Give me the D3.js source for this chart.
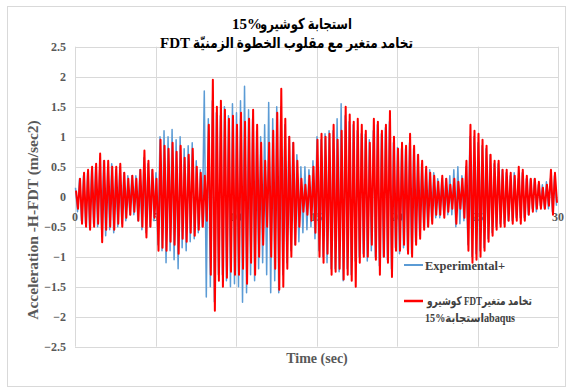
<!DOCTYPE html>
<html><head><meta charset="utf-8">
<script src="https://cdn.jsdelivr.net/npm/d3@7"></script>
<style>
html,body{margin:0;padding:0;background:#fff;}
svg{display:block;}
text{font-family:"Liberation Serif","DejaVu Serif","DejaVu Sans",serif;font-weight:bold;}
</style></head>
<body>
<svg id="chart" width="568" height="388"></svg>
<script>
// ---- data ----
// title: each line = [latin part shown at left, arabic part shown at right]
const titleLine1 = ["15%", "استجابة كوشيرو"];
const titleLine2 = ["FDT", "تخامد متغير مع مقلوب الخطوة الزمنيّة"];
const xTicks = [0, 5, 10, 15, 20, 25, 30];
const yTicks = [-2.5, -2, -1.5, -1, -0.5, 0, 0.5, 1, 1.5, 2, 2.5];
const xLabel = "Time (sec)";
const yLabel = "Acceleration -H-FDT (m/sec2)";
const seriesNames = ["Experimental+", "كوشيرو  FDTتخامد متغير", "15%استجابةabaqus"];
const sampleStep = 0.125;     // seconds between successive read extrema
const expStart = 0.03;        // time of first experimental extremum
const fdtStart = 0.0625;      // time of first FDT extremum

// Experimental+ (blue) – extrema, 8 per second
const experimental = [
 0.15,-0.25,0.3,-0.4,0.35,-0.45,0.4,-0.5,
 0.45,-0.45,0.5,-0.5,0.45,-0.55,0.6,-0.65,
 0.5,-0.55,0.55,-0.6,0.45,-0.5,0.5,-0.45,
 0.4,-0.4,0.35,-0.3,0.35,-0.3,0.35,-0.4,
 0.45,-0.55,0.65,-0.6,0.55,-0.5,0.45,-0.4,
 0.4,-0.8,1.0,-0.9,1.1,-1.1,1.0,-0.9,
 1.12,-1.05,0.95,-1.2,1.0,-0.85,0.8,-0.9,
 0.85,-0.75,0.9,-0.7,0.6,-0.6,0.45,-0.5,
 1.76,-1.67,1.3,-1.5,1.6,-1.75,1.4,-1.3,
 1.35,-1.3,1.5,-1.4,1.35,-1.5,1.55,-1.45,
 1.4,-1.5,1.6,-1.76,1.84,-1.6,1.45,-1.3,
 1.3,-1.4,1.1,-1.2,1.0,-1.1,1.2,-1.3,
 1.57,-1.6,1.3,-1.4,1.5,-1.6,1.5,-1.3,
 1.2,-1.1,1.0,-0.9,0.9,-0.8,0.7,-0.75,
 0.5,-0.6,0.5,-0.55,0.45,-0.5,0.6,-0.7,
 1.0,-0.9,0.95,-1.0,1.05,-1.1,1.1,-1.2,
 1.1,-1.2,1.3,-1.25,1.55,-1.4,1.35,-1.2,
 1.25,-1.3,1.2,-1.07,1.1,-1.0,1.05,-0.95,
 1.04,-1.07,0.95,-0.9,1.1,-1.0,1.2,-1.15,
 1.05,-1.0,1.15,-1.05,1.25,-1.2,0.9,-0.85,
 0.82,-0.95,0.8,-0.85,0.8,-0.9,0.9,-0.95,
 0.8,-0.75,0.7,-0.65,0.55,-0.5,0.45,-0.5,
 0.45,-0.4,0.4,-0.35,0.3,-0.35,0.3,-0.3,
 0.3,-0.3,0.35,-0.3,0.45,-0.5,0.5,-0.45,
 0.35,-0.4,0.5,-0.8,1.0,-1.0,1.0,-0.95,
 0.9,-0.9,0.85,-0.85,0.8,-0.7,0.7,-0.6,
 0.55,-0.5,0.55,-0.45,0.45,-0.45,0.4,-0.4,
 0.35,-0.4,0.4,-0.35,0.3,-0.35,0.4,-0.35,
 0.3,-0.3,0.3,-0.2,0.3,-0.25,0.2,-0.15,
 0.2,-0.2,0.25,-0.2,0.3,-0.25,0.35,-0.15
];

// FDT abaqus (red) – extrema, 8 per second
const fdt = [
 0.1,-0.2,0.3,-0.45,0.4,-0.5,0.45,-0.55,
 0.5,-0.5,0.55,-0.45,0.72,-0.76,0.6,-0.55,
 0.6,-0.5,0.5,-0.55,0.5,-0.45,0.55,-0.5,
 0.4,-0.35,0.3,-0.3,0.35,-0.25,0.3,-0.4,
 0.45,-0.5,0.77,-0.68,0.6,-0.5,0.45,-0.35,
 0.3,-0.9,0.95,-0.85,0.85,-0.9,0.8,-0.75,
 0.9,-0.8,0.75,-0.95,0.85,-0.7,0.65,-0.75,
 0.7,-0.6,0.8,-0.65,0.5,-0.55,0.4,-0.5,
 0.35,-0.4,1.2,-1.3,1.95,-1.9,1.5,-1.4,
 1.6,-1.5,1.45,-1.35,1.3,-1.25,1.35,-1.3,
 1.2,-1.3,1.4,-1.2,1.25,-1.45,1.3,-1.1,
 1.45,-1.3,1.2,-1.0,0.9,-0.8,0.6,-0.5,
 0.9,-1.0,1.1,-1.2,1.4,-1.55,1.8,-1.5,
 1.3,-1.2,1.0,-1.0,0.9,-0.8,0.6,-0.5,
 0.3,-0.25,0.2,-0.3,0.35,-0.4,0.5,-0.6,
 0.95,-1.0,1.05,-1.1,1.0,-0.95,1.05,-1.3,
 1.2,-1.25,0.95,-1.2,1.1,-1.38,1.5,-1.3,
 1.37,-1.4,1.25,-1.5,1.3,-1.1,1.2,-1.0,
 1.1,-1.0,0.9,-0.8,1.3,-1.05,1.25,-1.3,
 1.1,-1.0,1.2,-1.1,1.43,-1.34,1.0,-0.9,
 0.8,-0.9,0.9,-0.8,0.85,-0.95,1.05,-1.0,
 0.85,-0.8,0.7,-0.7,0.6,-0.55,0.5,-0.5,
 0.4,-0.45,0.35,-0.3,0.25,-0.3,0.35,-0.35,
 0.3,-0.25,0.2,-0.2,0.3,-0.45,0.25,-0.2,
 0.3,-0.35,0.6,-0.9,1.2,-1.1,1.1,-1.05,
 1.05,-1.0,0.95,-0.9,0.85,-0.75,0.7,-0.65,
 0.6,-0.55,0.6,-0.5,0.45,-0.5,0.45,-0.4,
 0.4,-0.45,0.35,-0.4,0.5,-0.45,0.45,-0.4,
 0.35,-0.3,0.3,-0.25,0.3,-0.2,0.25,-0.2,
 0.15,-0.2,0.2,-0.15,0.45,-0.3,0.4,-0.1
];

// ---- drawing ----
const svg = d3.select("#chart");
const x = d3.scaleLinear().domain([0, 30]).range([75, 558]);
const y = d3.scaleLinear().domain([-2.5, 2.5]).range([346.7, 46.7]);
const gray = "#595959";

// outer chart frame
svg.append("rect").attr("x", 7.5).attr("y", 6.5).attr("width", 558).attr("height", 380)
  .attr("fill", "#fff").attr("stroke", "#d9d9d9");

// gridlines
svg.append("g").selectAll("line").data(yTicks).join("line")
  .attr("x1", x(0)).attr("x2", x(30))
  .attr("y1", d => Math.round(y(d)) + 0.5).attr("y2", d => Math.round(y(d)) + 0.5)
  .attr("stroke", "#d9d9d9").attr("stroke-width", 1);
svg.append("g").selectAll("line").data(xTicks).join("line")
  .attr("y1", y(2.5)).attr("y2", y(-2.5))
  .attr("x1", d => Math.round(x(d)) + 0.5).attr("x2", d => Math.round(x(d)) + 0.5)
  .attr("stroke", "#d9d9d9").attr("stroke-width", 1);

// y axis tick labels
svg.append("g").selectAll("text").data(yTicks).join("text")
  .attr("x", 66).attr("y", d => y(d) + 4)
  .attr("text-anchor", "end").attr("font-size", 12).attr("fill", gray)
  .text(d => d3.format("")(d));

// x axis tick labels (sit under the zero line, behind the series)
svg.append("g").selectAll("text").data(xTicks).join("text")
  .attr("x", d => x(d)).attr("y", y(0) + 24)
  .attr("text-anchor", "middle").attr("font-size", 12).attr("fill", gray)
  .text(d => d);

// series
const toPts = (arr, t0) => arr.map((v, i) => [t0 + i * sampleStep, v]);
const line = d3.line().x(d => x(d[0])).y(d => y(d[1]));
svg.append("path").datum(toPts(experimental, expStart))
  .attr("d", line).attr("fill", "none").attr("stroke", "#5b9bd5")
  .attr("stroke-width", 1.5).attr("stroke-linejoin", "round");
svg.append("path").datum(toPts(fdt, fdtStart))
  .attr("d", line).attr("fill", "none").attr("stroke", "#ff0000")
  .attr("stroke-width", 2).attr("stroke-linejoin", "round");

// axis titles
svg.append("text").attr("transform", "translate(38,220) rotate(-90)")
  .attr("text-anchor", "middle").attr("font-size", 15.5).attr("fill", gray)
  .text(yLabel);
svg.append("text").attr("x", 317).attr("y", 363)
  .attr("text-anchor", "middle").attr("font-size", 14).attr("fill", gray)
  .text(xLabel);

// title (latin run on the left, arabic run on the right)
const tg = svg.append("g").attr("fill", "#000");
tg.append("text").attr("x", 232).attr("y", 29).attr("font-size", 15).text(titleLine1[0]);
tg.append("text").attr("x", 352).attr("y", 29).attr("font-size", 15)
  .attr("direction", "rtl").attr("text-anchor", "start")
  .attr("textLength", 92).attr("lengthAdjust", "spacingAndGlyphs")
  .text(titleLine1[1]);
tg.append("text").attr("x", 160).attr("y", 48).attr("font-size", 15).text(titleLine2[0]);
tg.append("text").attr("x", 413).attr("y", 48).attr("font-size", 15)
  .attr("direction", "rtl").attr("text-anchor", "start")
  .attr("textLength", 220).attr("lengthAdjust", "spacingAndGlyphs")
  .text(titleLine2[1]);

// legend
const lg = svg.append("g");
lg.append("line").attr("x1", 404).attr("x2", 423).attr("y1", 265).attr("y2", 265)
  .attr("stroke", "#5b9bd5").attr("stroke-width", 2);
lg.append("text").attr("x", 425).attr("y", 270).attr("font-size", 12.5).attr("fill", "#404040")
  .text(seriesNames[0]);
lg.append("line").attr("x1", 404).attr("x2", 423).attr("y1", 301).attr("y2", 301)
  .attr("stroke", "#ff0000").attr("stroke-width", 2.5);
lg.append("text").attr("x", 427).attr("y", 305).attr("font-size", 12).attr("fill", "#404040")
  .attr("textLength", 105).attr("lengthAdjust", "spacingAndGlyphs")
  .text(seriesNames[1]);
lg.append("text").attr("x", 425).attr("y", 322).attr("font-size", 12).attr("fill", "#404040")
  .attr("textLength", 90).attr("lengthAdjust", "spacingAndGlyphs")
  .text(seriesNames[2]);
</script>
</body></html>
